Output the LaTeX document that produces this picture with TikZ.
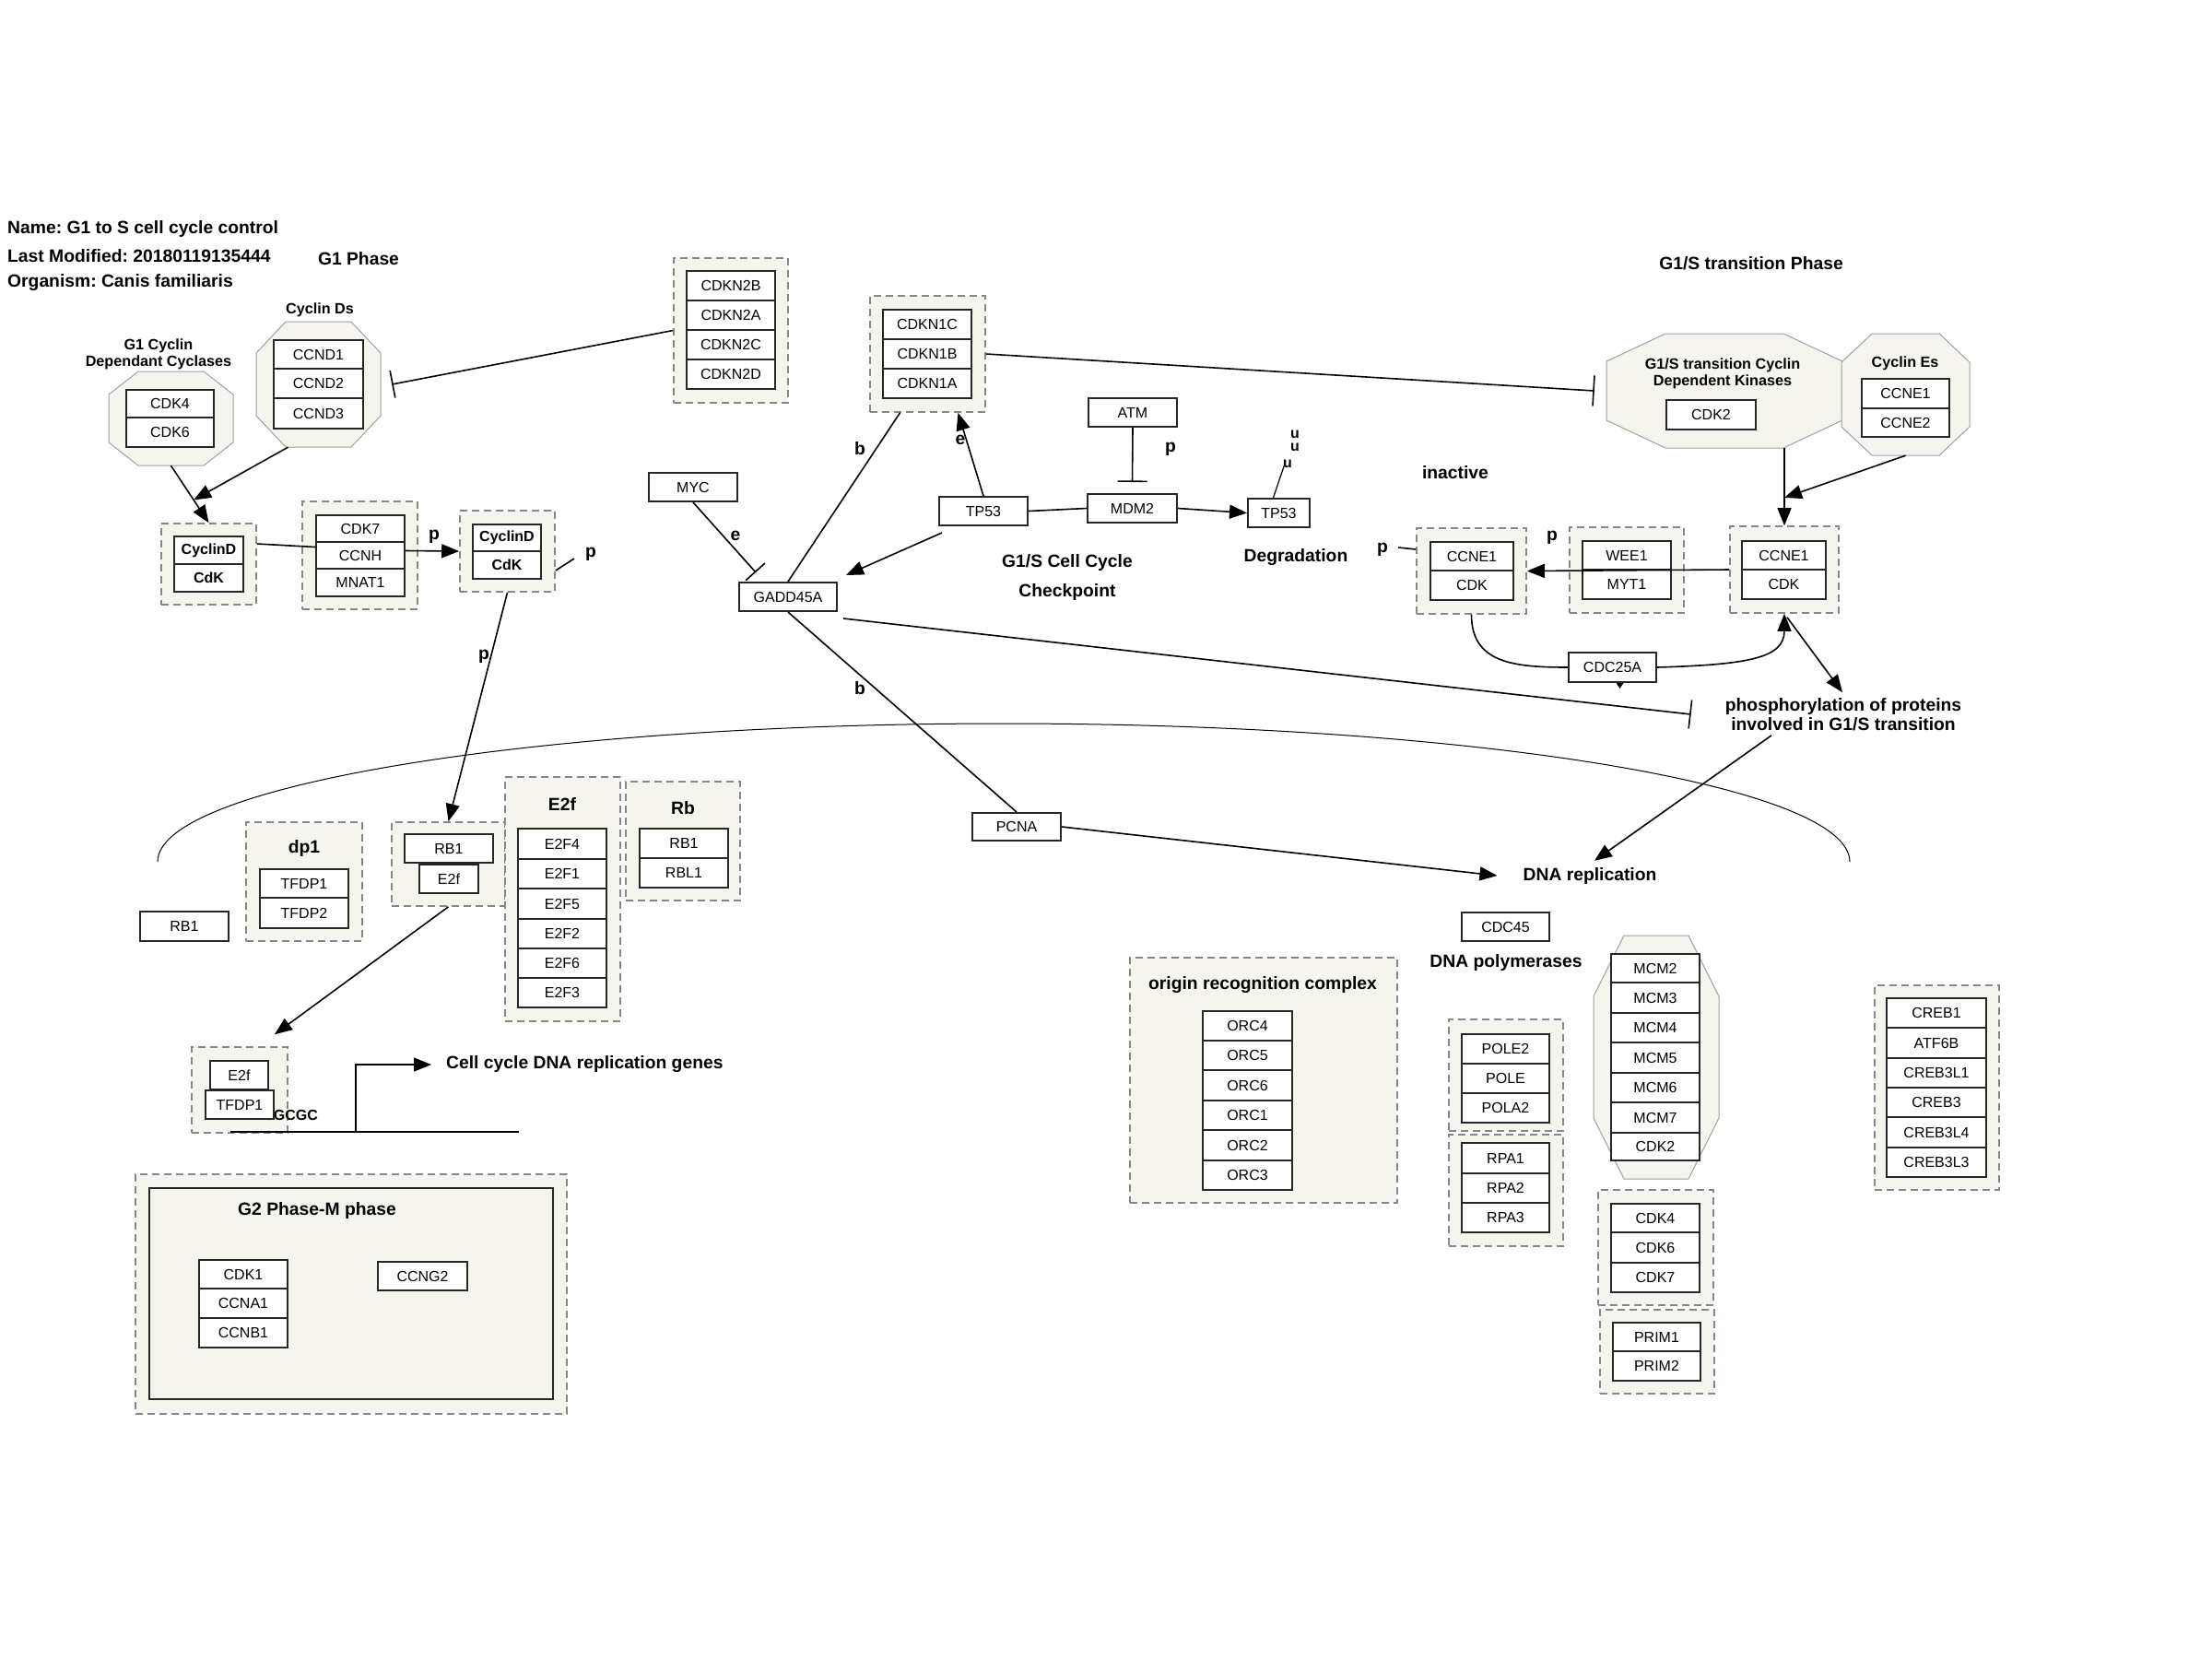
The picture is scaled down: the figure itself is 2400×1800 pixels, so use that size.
\documentclass[tikz,border=0pt]{standalone}
\usepackage{fontspec}
\setmainfont{Liberation Sans}
\usetikzlibrary{arrows.meta,calc}
\definecolor{grpfill}{RGB}{245,245,238}
\definecolor{grpline}{RGB}{135,135,135}
\definecolor{octline}{RGB}{160,160,160}
\frenchspacing

\tikzset{
  gbox/.style={draw=black!85, line width=2pt, fill=white, inner sep=0pt, font=\fontsize{16}{18}\selectfont},
  grpbox/.style={draw=grpline, line width=1.6pt, dash pattern=on 8pt off 5pt, fill=grpfill, inner sep=0pt},
  octfill/.style={fill=grpfill, draw=octline, line width=1pt},
  lbl/.style={font=\fontsize{19.3}{22}\selectfont\bfseries, inner sep=0pt},
  slbl/.style={font=\fontsize{16.2}{18}\selectfont\bfseries, inner sep=0pt, align=center},
  conn/.style={line width=1.6pt},
  act/.style={conn, -{Triangle[length=19pt,width=15pt]}},
  inh/.style={conn, -{Bar[width=30pt]}},
}

% gene box: name, x1, y1, x2, y2, text
\newcommand\gbx[6]{\node[gbox,minimum width={#4-#2},minimum height={#5-#3}] (#1) at ({(#2+#4)/2},{(#3+#5)/2}) {#6};}
% dashed complex group: name, x1, y1, x2, y2
\newcommand\grpx[5]{\node[grpbox,minimum width={#4-#2},minimum height={#5-#3}] (#1) at ({(#2+#4)/2},{(#3+#5)/2}) {};}
% octagonal group: name, x1, y1, x2, y2, corner cut x, corner cut y
\newcommand\octx[7]{%
  \filldraw[octfill] ({#2+#6},#3) -- ({#4-#6},#3) -- (#4,{#3+#7}) -- (#4,{#5-#7})
    -- ({#4-#6},#5) -- ({#2+#6},#5) -- (#2,{#5-#7}) -- (#2,{#3+#7}) -- cycle;
  \node[inner sep=0pt,minimum width={#4-#2},minimum height={#5-#3}] (#1) at ({(#2+#4)/2},{(#3+#5)/2}) {};}

\begin{document}
\begin{tikzpicture}[x=1pt,y=-1pt]
\useasboundingbox (0,0) rectangle (2400,1800);
\fill[white] (0,0) rectangle (2400,1800);

% ---------- cell membrane arc ----------
\draw[line width=1pt] (171,935) arc[start angle=180, end angle=360, x radius=918, y radius=150];

% ---------- complex groups ----------
\grpx{cdkntwo}{731}{280}{855}{437}
\grpx{cdgA}{175}{568}{278}{656}
\grpx{cdksev}{328}{544}{453}{661}
\grpx{cdgB}{499}{554}{602}{642}
\grpx{cdknone}{944}{321}{1069}{447}
\grpx{ccR}{1877}{571}{1995}{665}
\grpx{weeg}{1703}{572}{1827}{665}
\grpx{ccL}{1537}{573}{1656}{666}
\grpx{dpg}{267}{892}{393}{1021}
\grpx{rbeg}{425}{892}{548}{983}
\grpx{etwofg}{548}{843}{673}{1108}
\grpx{rbg}{679}{848}{803}{977}
\grpx{etfg}{208}{1136}{312}{1229}
\grpx{gtwoout}{147}{1274}{615}{1534}
\node[draw=black!85, line width=2pt, fill=grpfill, inner sep=0pt, minimum width=438pt, minimum height=229pt] (gtwoin) at (381,1403.5) {};
\grpx{orcg}{1226}{1039}{1516}{1305}
\grpx{poleg}{1572}{1106}{1696}{1227}
\grpx{rpag}{1572}{1231}{1696}{1352}
\grpx{cdkg}{1734}{1291}{1859}{1416}
\grpx{primg}{1736}{1421}{1860}{1512}
\grpx{crebg}{2034}{1069}{2169}{1291}

% ---------- octagonal groups ----------
\octx{gonecyc}{118}{403}{253}{505}{32}{25}
\octx{cydoct}{278}{349}{413}{485}{32}{34}
\octx{gsoct}{1743}{362}{1999}{486}{64}{30}
\octx{ceoct}{1998}{362}{2137}{494}{33}{31}
\octx{mcmoct}{1729}{1015}{1865}{1279}{33}{66}

% E2F binding site, partly under the TFDP1 box
\node[lbl, anchor=east, font=\fontsize{16}{18}\selectfont\bfseries] (esite) at (345,1210) {TTTCGCGC};

% ---------- gene boxes ----------
\gbx{ccndone}{297}{369}{394}{400}{CCND1}
\gbx{ccndtwo}{297}{400}{394}{432}{CCND2}
\gbx{ccndthree}{297}{432}{394}{465}{CCND3}
\gbx{cdkfour}{137}{423}{232}{453}{CDK4}
\gbx{cdksix}{137}{453}{232}{485}{CDK6}
\gbx{ntwob}{745}{294}{841}{326}{CDKN2B}
\gbx{ntwoa}{745}{326}{841}{358}{CDKN2A}
\gbx{ntwoc}{745}{358}{841}{390}{CDKN2C}
\gbx{ntwod}{745}{390}{841}{422}{CDKN2D}
\gbx{cydA}{189}{582}{264}{612}{\bfseries CyclinD}
\gbx{cdkA}{189}{612}{264}{642}{\bfseries CdK}
\gbx{cdkseven}{343}{559}{439}{588}{CDK7}
\gbx{ccnh}{343}{588}{439}{617}{CCNH}
\gbx{mnat}{343}{617}{439}{647}{MNAT1}
\gbx{cydB}{513}{569}{587}{598}{\bfseries CyclinD}
\gbx{cdkB}{513}{598}{587}{628}{\bfseries CdK}
\gbx{myc}{704}{513}{800}{544}{MYC}
\gbx{gadd}{802}{632}{908}{663}{GADD45A}
\gbx{nonec}{958}{336}{1054}{368}{CDKN1C}
\gbx{noneb}{958}{368}{1054}{400}{CDKN1B}
\gbx{nonea}{958}{400}{1054}{432}{CDKN1A}
\gbx{atm}{1181}{432}{1277}{463}{ATM}
\gbx{tpA}{1019}{539}{1115}{570}{TP53}
\gbx{mdm}{1180}{536}{1277}{567}{MDM2}
\gbx{tpB}{1354}{541}{1421}{572}{TP53}
\gbx{cdktwoA}{1808}{434}{1905}{466}{CDK2}
\gbx{cceoneA}{2020}{411}{2115}{443}{CCNE1}
\gbx{ccetwoA}{2020}{443}{2115}{474}{CCNE2}
\gbx{cceR}{1890}{587}{1981}{618}{CCNE1}
\gbx{cdkR}{1890}{618}{1981}{650}{CDK}
\gbx{wee}{1717}{587}{1813}{618}{WEE1}
\gbx{myt}{1717}{618}{1813}{650}{MYT1}
\gbx{cceL}{1552}{588}{1642}{619}{CCNE1}
\gbx{cdkL}{1552}{619}{1642}{651}{CDK}
\gbx{cdc}{1702}{708}{1797}{740}{CDC25A}
\gbx{pcna}{1055}{882}{1151}{912}{PCNA}
\gbx{rbfree}{152}{989}{248}{1021}{RB1}
\gbx{tfdpone}{282}{943}{378}{974}{TFDP1}
\gbx{tfdptwo}{282}{974}{378}{1007}{TFDP2}
\gbx{rbC}{439}{905}{535}{936}{RB1}
\gbx{etwofC}{455}{938}{519}{969}{E2f}
\gbx{efour}{562}{899}{658}{932}{E2F4}
\gbx{eone}{562}{932}{658}{964}{E2F1}
\gbx{efive}{562}{964}{658}{997}{E2F5}
\gbx{etwo}{562}{997}{658}{1029}{E2F2}
\gbx{esix}{562}{1029}{658}{1061}{E2F6}
\gbx{ethree}{562}{1061}{658}{1093}{E2F3}
\gbx{rbone}{694}{899}{790}{931}{RB1}
\gbx{rblone}{694}{931}{790}{963}{RBL1}
\gbx{etwofD}{228}{1151}{291}{1182}{E2f}
\gbx{tfdpD}{223}{1183}{297}{1214}{TFDP1}
\gbx{cdkone}{216}{1367}{312}{1398}{CDK1}
\gbx{ccnaone}{216}{1398}{312}{1430}{CCNA1}
\gbx{ccnbone}{216}{1430}{312}{1462}{CCNB1}
\gbx{ccngtwo}{410}{1369}{507}{1400}{CCNG2}
\gbx{cdcff}{1586}{990}{1681}{1021}{CDC45}
\gbx{orcfour}{1305}{1097}{1402}{1129}{ORC4}
\gbx{orcfive}{1305}{1129}{1402}{1161}{ORC5}
\gbx{orcsix}{1305}{1161}{1402}{1194}{ORC6}
\gbx{orcone}{1305}{1194}{1402}{1226}{ORC1}
\gbx{orctwo}{1305}{1226}{1402}{1259}{ORC2}
\gbx{orcthree}{1305}{1259}{1402}{1291}{ORC3}
\gbx{poletwo}{1586}{1122}{1681}{1154}{POLE2}
\gbx{pole}{1586}{1154}{1681}{1186}{POLE}
\gbx{polatwo}{1586}{1186}{1681}{1218}{POLA2}
\gbx{rpaone}{1586}{1240}{1681}{1273}{RPA1}
\gbx{rpatwo}{1586}{1273}{1681}{1305}{RPA2}
\gbx{rpathree}{1586}{1305}{1681}{1337}{RPA3}
\gbx{mcmtwo}{1748}{1035}{1844}{1066}{MCM2}
\gbx{mcmthree}{1748}{1066}{1844}{1099}{MCM3}
\gbx{mcmfour}{1748}{1099}{1844}{1131}{MCM4}
\gbx{mcmfive}{1748}{1131}{1844}{1164}{MCM5}
\gbx{mcmsix}{1748}{1164}{1844}{1196}{MCM6}
\gbx{mcmseven}{1748}{1196}{1844}{1229}{MCM7}
\gbx{cdktwoB}{1748}{1229}{1844}{1259}{CDK2}
\gbx{cdkfourB}{1748}{1306}{1844}{1337}{CDK4}
\gbx{cdksixB}{1748}{1337}{1844}{1370}{CDK6}
\gbx{cdksevenB}{1748}{1370}{1844}{1402}{CDK7}
\gbx{primone}{1750}{1435}{1845}{1466}{PRIM1}
\gbx{primtwo}{1750}{1466}{1845}{1498}{PRIM2}
\gbx{crebone}{2047}{1083}{2155}{1115}{CREB1}
\gbx{atfsixb}{2047}{1115}{2155}{1148}{ATF6B}
\gbx{crebtlone}{2047}{1148}{2155}{1180}{CREB3L1}
\gbx{crebthree}{2047}{1180}{2155}{1212}{CREB3}
\gbx{crebtlfour}{2047}{1212}{2155}{1245}{CREB3L4}
\gbx{crebtlthree}{2047}{1245}{2155}{1277}{CREB3L3}

% ---------- text labels ----------
\node[lbl, anchor=west] (ttlname) at (8,249) {Name: G1 to S cell cycle control};
\node[lbl, anchor=west] (ttlmod) at (8,278) {Last Modified: 20180119135444};
\node[lbl, anchor=west] (ttlorg) at (8,307) {Organism: Canis familiaris};
\node[lbl] (gonephase) at (389,281) {G1 Phase};
\node[slbl] (cydlbl) at (347,336) {Cyclin Ds};
\node[slbl] (gonecyclbl) at (172,384) {G1 Cyclin\\Dependant Cyclases};
\node[lbl, align=center, font=\fontsize{19.3}{32}\selectfont\bfseries] (chklbl) at (1158,626) {G1/S Cell Cycle\\Checkpoint};
\node[lbl] (degr) at (1406,605) {Degradation};
\node[lbl] (inact) at (1579,513) {inactive};
\node[lbl] (gsphase) at (1900,286) {G1/S transition Phase};
\node[slbl] (gsoctlbl) at (1869,405) {G1/S transition Cyclin\\Dependent Kinases};
\node[slbl] (celbl) at (2067,394) {Cyclin Es};
\node[lbl, align=center, font=\fontsize{19.3}{21}\selectfont\bfseries] (phos) at (2000,775) {phosphorylation of proteins\\involved in G1/S transition};
\node[lbl] (dnarep) at (1725,950) {DNA replication};
\node[lbl] (dnapol) at (1634,1044) {DNA polymerases};
\node[lbl] (orclbl) at (1370,1069) {origin recognition complex};
\node[lbl] (dplbl) at (330,920) {dp1};
\node[lbl] (etwoflbl) at (610,872) {E2f};
\node[lbl] (rblbl) at (741,877) {Rb};
\node[lbl, anchor=west] (genes) at (484,1155) {Cell cycle DNA replication genes};
\node[lbl] (gtwolbl) at (344,1313) {G2 Phase-M phase};

% small edge labels
\node[lbl] (pA) at (471,582) {p};
\node[lbl] (pB) at (641,601) {p};
\node[lbl] (pC) at (525,712) {p};
\node[lbl] (eA) at (798,581) {e};
\node[lbl] (bA) at (933,487) {b};
\node[lbl] (bB) at (933,747) {b};
\node[lbl] (eB) at (1042,477) {e};
\node[lbl] (pD) at (1270,487) {p};
\node[lbl, font=\fontsize{16}{18}\selectfont\bfseries] (uA) at (1405,471) {u};
\node[lbl, font=\fontsize{16}{18}\selectfont\bfseries] (uB) at (1405,485) {u};
\node[lbl, font=\fontsize{16}{18}\selectfont\bfseries] (uC) at (1397,503) {u};
\node[lbl] (pE) at (1684,583) {p};
\node[lbl] (pF) at (1500,596) {p};

% ---------- connectors ----------
% G1 phase
\draw[act] (gonecyc.south) -- (cdgA.north);
\draw[act] ([xshift=-33pt]cydoct.south) -- ($(gonecyc.south)!0.6!(cdgA.north)$);
\draw[inh] (cdkntwo.west) -- ([xshift=12pt]cydoct.east);
\draw[conn] ([yshift=22pt]cdgA.east) -- ([yshift=9pt]ccnh.west);
\draw[act] ([yshift=5pt]ccnh.east) -- (cdgB.west);
\coordinate (pstubA) at (623,606);
\draw[conn] ([yshift=-21pt]cdgB.east) -- (pstubA);
\draw[act] (cdgB.south) -- (rbeg.north);
\draw[act] (rbeg.south) -- ([xshift=38pt,yshift=13pt]etfg.north);

% checkpoint
\draw[conn, -{Bar[width=28pt]}] (myc.south) -- ([xshift=19pt,yshift=10pt]gadd.north west);
\draw[conn] (gadd.north) -- ([xshift=-30pt]cdknone.south);
\draw[act] (tpA.north) -- ([xshift=33pt]cdknone.south);
\draw[act] ([xshift=4pt,yshift=-7pt]tpA.south west) -- ([xshift=9pt,yshift=7pt]gadd.north east);
\draw[conn] (tpA.east) -- (mdm.west);
\draw[act] (mdm.east) -- (tpB.west);
\draw[conn, -{Bar[width=32pt]}] (atm.south) -- ([yshift=12pt]mdm.north);
\coordinate (uend) at (1395,500);
\draw[conn, line width=1.2pt] ([xshift=-6pt]tpB.north) -- (uend);
\draw[conn, -{Bar[width=33pt]}] (cdknone.east) -- ([xshift=-13pt]gsoct.west);

% G1/S transition
\coordinate (gsfoot) at (ccR.north |- gsoct.south);
\draw[act] (gsfoot) -- (ccR.north);
\draw[act] (ceoct.south) -- ($(gsfoot)!0.64!(ccR.north)$);
\draw[act] (ccR.west) -- (ccL.east);
\coordinate (pstubB) at (1517,594);
\draw[conn] ([yshift=23.5pt]ccL.west) -- (pstubB);
\draw[conn] (ccL.south) .. controls +(0,52) and +(-60,0) .. (cdc.west);
\draw[act] (cdc.east) .. controls +(100,-3) and +(0,48) .. (ccR.south);
\fill ([xshift=4pt]cdc.south) -- ([xshift=12pt]cdc.south) -- ([xshift=8pt,yshift=-6pt]cdc.south) -- cycle;
\draw[act] ([xshift=3pt,yshift=-4pt]ccR.south) -- ([xshift=-1pt,yshift=6pt]phos.north);
\draw[conn, -{Bar[width=31pt]}] ([xshift=6pt,yshift=-7pt]gadd.south east) -- ([xshift=-37pt]phos.west);

% DNA replication
\draw[conn] (gadd.south) -- (pcna.north);
\draw[act] (pcna.east) -- ([xshift=-28pt]dnarep.west);
\draw[act] ([xshift=-78pt,yshift=-5pt]phos.south) -- ([xshift=5pt,yshift=7pt]dnarep.north);

% promoter and transcription start
\coordinate (dnaL) at (250,1228);
\coordinate (dnaR) at (563,1228);
\coordinate (tss) at (386,1228);
\draw[conn] (dnaL) -- (dnaR);
\draw[act] (tss) |- ([xshift=-16pt]genes.west);

\end{tikzpicture}
\end{document}
